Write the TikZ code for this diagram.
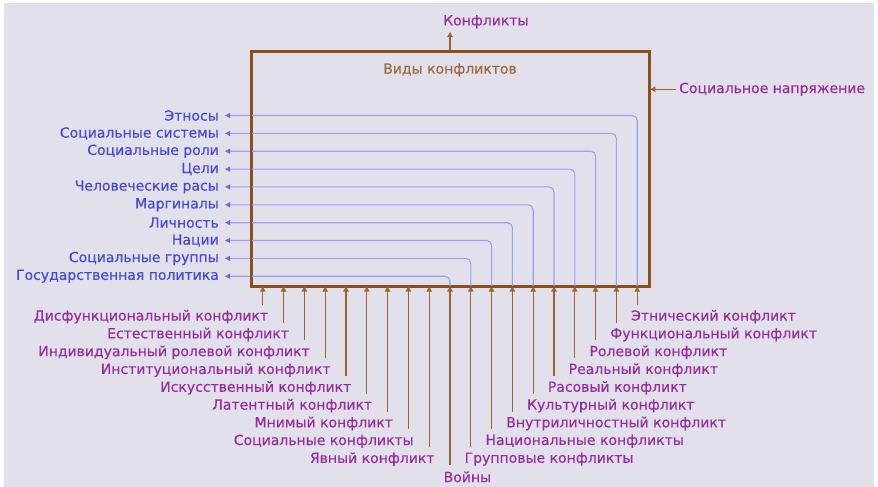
\documentclass[tikz,border=0pt]{standalone}
\usepackage{fontspec}
\setmainfont{DejaVu Sans}[FakeBold=0.35]
\usetikzlibrary{arrows.meta}
\definecolor{bgcol}{HTML}{E2E1EB}
\definecolor{boxcol}{HTML}{8A4F1C}
\definecolor{arrcol}{HTML}{9A6433}
\definecolor{titlecol}{HTML}{9C6A40}
\definecolor{purp}{HTML}{972C9E}
\definecolor{bluetxt}{HTML}{4848D8}
\definecolor{blueln}{HTML}{9E9EF8}
\begin{document}
\begin{tikzpicture}[x=1pt,y=-1pt,
    every node/.style={inner sep=0pt,font=\fontsize{14}{17}\selectfont},
    lbl/.style={text=purp},
    blbl/.style={text=bluetxt,anchor=east},
    arr/.style={draw=arrcol,line width=1.3pt,-{Triangle[length=5pt,width=5.5pt]}},
    barr/.style={draw=blueln,line width=1.1pt,rounded corners=5pt,
      -{Triangle[length=5pt,width=5pt,color=bluetxt!80]},shorten >=6pt}]
    \useasboundingbox (0,0) rectangle (878,487);
    \fill[bgcol] (4,3) rectangle (874,487);
    \node (box) [draw=boxcol,line width=2pt,minimum width=397.5pt,minimum height=234pt] at (450.7,168.6) {};
    \node (T) [text=titlecol] at (450,70) {Виды конфликтов};
    % output
    \coordinate (out) at (450,32);
    \node (O) [lbl,anchor=west] at (443,21.7) {Конфликты};
    \draw[arr] (box.north -| out) -- (out);
    % control
    \coordinate (in) at (676,89.3);
    \node (C) [lbl,anchor=west] at (679,89.3) {Социальное напряжение};
    \draw[arr] (in) -- (in -| box.east);
    % mechanisms
    \coordinate (p1) at (262.8,304.7);
    \coordinate (p2) at (283.6,322.5);
    \coordinate (p3) at (304.4,340.3);
    \coordinate (p4) at (325.2,358.1);
    \coordinate (p5) at (346.0,375.9);
    \coordinate (p6) at (366.8,393.7);
    \coordinate (p7) at (387.6,411.5);
    \coordinate (p8) at (408.4,429.3);
    \coordinate (p9) at (429.2,447.1);
    \coordinate (p10) at (450.0,464.9);
    \coordinate (p11) at (470.8,447.1);
    \coordinate (p12) at (491.6,429.3);
    \coordinate (p13) at (512.4,411.5);
    \coordinate (p14) at (533.2,393.7);
    \coordinate (p15) at (554.0,375.9);
    \coordinate (p16) at (574.8,358.1);
    \coordinate (p17) at (595.6,340.3);
    \coordinate (p18) at (616.4,322.5);
    \coordinate (p19) at (637.2,304.7);
    \node (M1) [lbl,anchor=east] at (268.3,316.7) {Дисфункциональный конфликт};
    \node (M2) [lbl,anchor=east] at (289.1,334.5) {Естественный конфликт};
    \node (M3) [lbl,anchor=east] at (309.9,352.3) {Индивидуальный ролевой конфликт};
    \node (M4) [lbl,anchor=east] at (330.7,370.1) {Институциональный конфликт};
    \node (M5) [lbl,anchor=east] at (351.5,387.9) {Искусственный конфликт};
    \node (M6) [lbl,anchor=east] at (372.3,405.7) {Латентный конфликт};
    \node (M7) [lbl,anchor=east] at (393.1,423.5) {Мнимый конфликт};
    \node (M8) [lbl,anchor=east] at (413.9,441.3) {Социальные конфликты};
    \node (M9) [lbl,anchor=east] at (434.7,459.1) {Явный конфликт};
    \node (M10) [lbl,anchor=west] at (443.5,476.9) {Войны};
    \node (M11) [lbl,anchor=west] at (464.5,459.1) {Групповые конфликты};
    \node (M12) [lbl,anchor=west] at (485.3,441.3) {Национальные конфликты};
    \node (M13) [lbl,anchor=west] at (506.1,423.5) {Внутриличностный конфликт};
    \node (M14) [lbl,anchor=west] at (526.9,405.7) {Культурный конфликт};
    \node (M15) [lbl,anchor=west] at (547.7,387.9) {Расовый конфликт};
    \node (M16) [lbl,anchor=west] at (568.5,370.1) {Реальный конфликт};
    \node (M17) [lbl,anchor=west] at (589.3,352.3) {Ролевой конфликт};
    \node (M18) [lbl,anchor=west] at (610.1,334.5) {Функциональный конфликт};
    \node (M19) [lbl,anchor=west] at (630.9,316.7) {Этнический конфликт};
    % outputs to the left
    \node (E1) [blbl] at (219,115.5) {Этносы};
    \node (E2) [blbl] at (219,133.4) {Социальные системы};
    \node (E3) [blbl] at (219,151.2) {Социальные роли};
    \node (E4) [blbl] at (219,169.1) {Цели};
    \node (E5) [blbl] at (219,186.9) {Человеческие расы};
    \node (E6) [blbl] at (219,204.8) {Маргиналы};
    \node (E7) [blbl] at (219,222.7) {Личность};
    \node (E8) [blbl] at (219,240.5) {Нации};
    \node (E9) [blbl] at (219,258.4) {Социальные группы};
    \node (E10) [blbl] at (219,276.2) {Государственная политика};
    \draw[barr] (p19 |- box.south) |- (E1);
    \draw[barr] (p18 |- box.south) |- (E2);
    \draw[barr] (p17 |- box.south) |- (E3);
    \draw[barr] (p16 |- box.south) |- (E4);
    \draw[barr] (p15 |- box.south) |- (E5);
    \draw[barr] (p14 |- box.south) |- (E6);
    \draw[barr] (p13 |- box.south) |- (E7);
    \draw[barr] (p12 |- box.south) |- (E8);
    \draw[barr] (p11 |- box.south) |- (E9);
    \draw[barr] (p10 |- box.south) |- (E10);
    \draw[draw=boxcol,line width=2pt] (box.south west) rectangle (box.north east);
    \draw[arr] (p1) -- (p1 |- box.south);
    \draw[arr] (p2) -- (p2 |- box.south);
    \draw[arr] (p3) -- (p3 |- box.south);
    \draw[arr] (p4) -- (p4 |- box.south);
    \draw[arr] (p5) -- (p5 |- box.south);
    \draw[arr] (p6) -- (p6 |- box.south);
    \draw[arr] (p7) -- (p7 |- box.south);
    \draw[arr] (p8) -- (p8 |- box.south);
    \draw[arr] (p9) -- (p9 |- box.south);
    \draw[arr] (p10) -- (p10 |- box.south);
    \draw[arr] (p11) -- (p11 |- box.south);
    \draw[arr] (p12) -- (p12 |- box.south);
    \draw[arr] (p13) -- (p13 |- box.south);
    \draw[arr] (p14) -- (p14 |- box.south);
    \draw[arr] (p15) -- (p15 |- box.south);
    \draw[arr] (p16) -- (p16 |- box.south);
    \draw[arr] (p17) -- (p17 |- box.south);
    \draw[arr] (p18) -- (p18 |- box.south);
    \draw[arr] (p19) -- (p19 |- box.south);
  \end{tikzpicture}
\end{document}
